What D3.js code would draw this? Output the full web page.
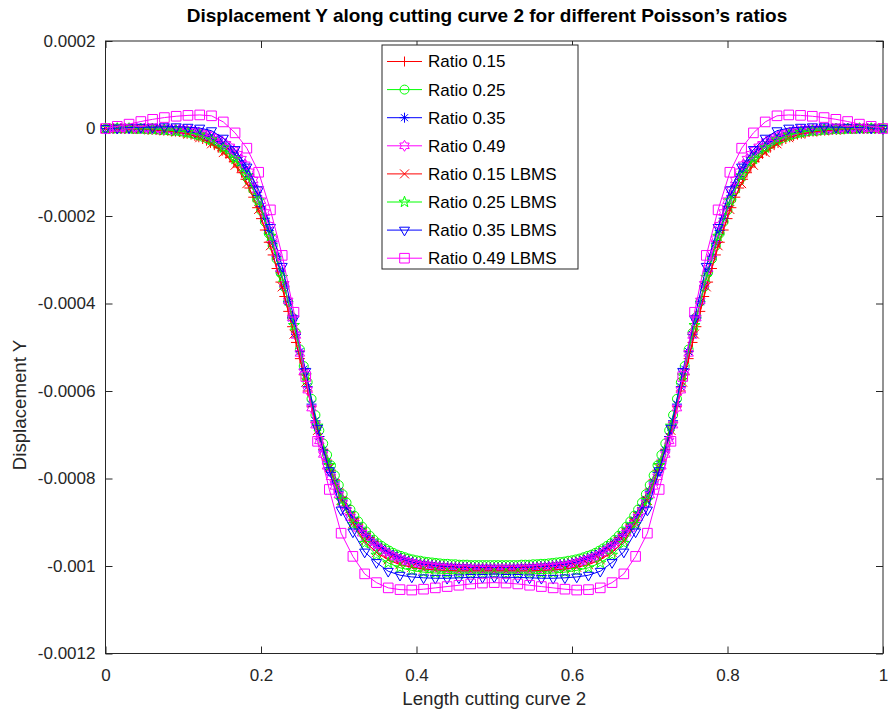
<!DOCTYPE html>
<html><head><meta charset="utf-8">
<script src="https://cdn.jsdelivr.net/npm/d3@7"></script>
<style>
body{margin:0;background:#fff}
svg{display:block}
text{font-family:"Liberation Sans",Arial,Helvetica,sans-serif}
</style>
</head><body>
<svg id="chart" width="888" height="715"></svg>
<script>
// values are in units of 1e-6 (micro)
const Y_UNIT = 1e-6;
const xDense = d3.range(201).map(i => i / 200);   // sampling grid, step 0.005
const xLbms = d3.range(67).map(i => i / 66);      // LBMS sampling grid

const ratio015 = [
0,0,0,0,0,0,-1,-1,-1,-1,
-2,-2,-3,-3,-4,-5,-5,-6,-7,-8,
-10,-12,-14,-17,-20,-24,-28,-33,-38,-44,
-51,-58,-66,-76,-88,-101,-116,-136,-157,-181,
-206,-232,-260,-289,-320,-351,-384,-418,-453,-489,
-526,-563,-600,-636,-671,-704,-733,-758,-781,-803,
-824,-844,-862,-878,-891,-904,-915,-926,-935,-944,
-951,-958,-964,-969,-974,-978,-981,-984,-987,-989,
-991,-992,-994,-995,-996,-997,-998,-999,-1000,-1000,
-1001,-1001,-1002,-1002,-1002,-1003,-1003,-1003,-1003,-1003,
-1003,-1003,-1003,-1003,-1003,-1003,-1002,-1002,-1002,-1001,
-1001,-1000,-1000,-999,-998,-997,-996,-995,-994,-992,
-991,-989,-987,-984,-981,-978,-974,-969,-964,-958,
-951,-944,-935,-926,-915,-904,-891,-878,-862,-844,
-824,-803,-781,-758,-733,-704,-671,-636,-600,-563,
-526,-489,-453,-418,-384,-351,-320,-289,-260,-232,
-206,-181,-157,-136,-116,-101,-88,-76,-66,-58,
-51,-44,-38,-33,-28,-24,-20,-17,-14,-12,
-10,-8,-7,-6,-5,-5,-4,-3,-3,-2,
-2,-1,-1,-1,-1,0,0,0,0,0,
0];

const ratio025 = [
0,0,0,0,0,0,0,-1,-1,-1,
-1,-2,-2,-2,-3,-3,-4,-5,-5,-6,
-7,-9,-11,-13,-16,-19,-22,-26,-30,-36,
-42,-48,-55,-64,-75,-87,-100,-120,-140,-162,
-187,-213,-240,-268,-298,-329,-362,-396,-431,-467,
-505,-543,-580,-618,-655,-690,-720,-746,-770,-793,
-815,-836,-855,-871,-885,-898,-910,-921,-931,-940,
-948,-954,-960,-965,-970,-974,-977,-980,-983,-985,
-987,-988,-990,-991,-992,-993,-994,-995,-995,-996,
-996,-997,-997,-997,-998,-998,-998,-998,-998,-998,
-998,-998,-998,-998,-998,-998,-998,-997,-997,-997,
-996,-996,-995,-995,-994,-993,-992,-991,-990,-988,
-987,-985,-983,-980,-977,-974,-970,-965,-960,-954,
-948,-940,-931,-921,-910,-898,-885,-871,-855,-836,
-815,-793,-770,-746,-720,-690,-655,-618,-580,-543,
-505,-467,-431,-396,-362,-329,-298,-268,-240,-213,
-187,-162,-140,-120,-100,-87,-75,-64,-55,-48,
-42,-36,-30,-26,-22,-19,-16,-13,-11,-9,
-7,-6,-5,-5,-4,-3,-3,-2,-2,-2,
-1,-1,-1,-1,0,0,0,0,0,0,
0];

const ratio035 = [
0,0,0,0,0,0,0,0,0,0,
-1,-1,-1,-1,-2,-2,-3,-3,-4,-4,
-5,-6,-8,-10,-12,-15,-18,-21,-25,-30,
-35,-41,-48,-56,-66,-78,-92,-110,-130,-153,
-178,-205,-233,-262,-293,-326,-360,-396,-433,-471,
-510,-550,-590,-630,-668,-704,-735,-762,-786,-808,
-829,-849,-867,-882,-896,-909,-920,-930,-939,-947,
-954,-960,-966,-971,-975,-979,-983,-986,-989,-991,
-993,-995,-996,-997,-998,-999,-1000,-1001,-1001,-1002,
-1002,-1003,-1003,-1003,-1004,-1004,-1004,-1004,-1004,-1004,
-1004,-1004,-1004,-1004,-1004,-1004,-1004,-1003,-1003,-1003,
-1002,-1002,-1001,-1001,-1000,-999,-998,-997,-996,-995,
-993,-991,-989,-986,-983,-979,-975,-971,-966,-960,
-954,-947,-939,-930,-920,-909,-896,-882,-867,-849,
-829,-808,-786,-762,-735,-704,-668,-630,-590,-550,
-510,-471,-433,-396,-360,-326,-293,-262,-233,-205,
-178,-153,-130,-110,-92,-78,-66,-56,-48,-41,
-35,-30,-25,-21,-18,-15,-12,-10,-8,-6,
-5,-4,-4,-3,-3,-2,-2,-1,-1,-1,
-1,0,0,0,0,0,0,0,0,0,
0];

const ratio049 = [
0,0,0,0,0,0,0,0,0,0,
0,0,0,-1,-1,-1,-1,-2,-2,-3,
-3,-4,-5,-7,-9,-11,-14,-17,-21,-25,
-30,-36,-42,-50,-59,-70,-83,-99,-118,-140,
-165,-192,-221,-252,-285,-320,-356,-394,-433,-473,
-514,-556,-598,-639,-678,-714,-745,-772,-796,-818,
-838,-857,-874,-889,-902,-914,-925,-935,-944,-952,
-958,-964,-970,-975,-979,-983,-986,-989,-992,-994,
-996,-998,-999,-1000,-1001,-1002,-1003,-1004,-1004,-1005,
-1005,-1006,-1006,-1006,-1007,-1007,-1007,-1007,-1007,-1007,
-1007,-1007,-1007,-1007,-1007,-1007,-1007,-1006,-1006,-1006,
-1005,-1005,-1004,-1004,-1003,-1002,-1001,-1000,-999,-998,
-996,-994,-992,-989,-986,-983,-979,-975,-970,-964,
-958,-952,-944,-935,-925,-914,-902,-889,-874,-857,
-838,-818,-796,-772,-745,-714,-678,-639,-598,-556,
-514,-473,-433,-394,-356,-320,-285,-252,-221,-192,
-165,-140,-118,-99,-83,-70,-59,-50,-42,-36,
-30,-25,-21,-17,-14,-11,-9,-7,-5,-4,
-3,-3,-2,-2,-1,-1,-1,-1,0,0,
0,0,0,0,0,0,0,0,0,0,
0];

const ratio015Lbms = [
0,0,-1,-1,-3,-5,-8,-13,-21,-35,
-55,-84,-126,-185,-268,-362,-470,-580,-690,-775,
-850,-902,-943,-969,-986,-997,-1003,-1007,-1009,-1010,
-1011,-1011,-1011,-1011,-1011,-1011,-1011,-1010,-1009,-1007,
-1003,-997,-986,-969,-943,-902,-850,-775,-690,-580,
-470,-362,-268,-185,-126,-84,-55,-35,-21,-13,
-8,-5,-3,-1,-1,0,0];

const ratio025Lbms = [
0,0,0,-1,-1,-3,-5,-9,-15,-26,
-44,-70,-108,-165,-246,-340,-450,-565,-680,-770,
-850,-905,-948,-975,-993,-1004,-1010,-1014,-1016,-1017,
-1018,-1018,-1018,-1018,-1018,-1018,-1018,-1017,-1016,-1014,
-1010,-1004,-993,-975,-948,-905,-850,-770,-680,-565,
-450,-340,-246,-165,-108,-70,-44,-26,-15,-9,
-5,-3,-1,-1,0,0,0];

const ratio035Lbms = [
0,1,2,3,3,4,4,3,1,-5,
-22,-48,-88,-140,-226,-315,-435,-555,-685,-782,
-872,-922,-968,-992,-1012,-1021,-1025,-1027,-1028,-1028,
-1027,-1026,-1026,-1025,-1026,-1026,-1027,-1028,-1028,-1027,
-1025,-1021,-1012,-992,-968,-922,-872,-782,-685,-555,
-435,-315,-226,-140,-88,-48,-22,-5,1,3,
4,4,3,3,2,1,0];

const ratio049Lbms = [
0,5,10,16,21,25,28,30,31,29,
15,-10,-45,-100,-186,-290,-420,-567,-715,-825,
-925,-978,-1018,-1038,-1050,-1054,-1055,-1053,-1050,-1047,
-1044,-1041,-1039,-1038,-1039,-1041,-1044,-1047,-1050,-1053,
-1055,-1054,-1050,-1038,-1018,-978,-925,-825,-715,-567,
-420,-290,-186,-100,-45,-10,15,29,31,30,
28,25,21,16,10,5,0];

const xTicks = [0, 0.2, 0.4, 0.6, 0.8, 1];
const yTicks = [0.0002, 0, -0.0002, -0.0004, -0.0006, -0.0008, -0.001, -0.0012];

const titleText = "Displacement Y along cutting curve 2 for different Poisson\u2019s ratios";
const xLabelText = "Length cutting curve 2";
const yLabelText = "Displacement Y";

const series = [
  {name: "Ratio 0.15",      xs: xDense, ys: ratio015,     color: "#ff0000", marker: "plus"},
  {name: "Ratio 0.25",      xs: xDense, ys: ratio025,     color: "#00ff00", marker: "circle"},
  {name: "Ratio 0.35",      xs: xDense, ys: ratio035,     color: "#0000ff", marker: "asterisk"},
  {name: "Ratio 0.49",      xs: xDense, ys: ratio049,     color: "#ff00ff", marker: "hexagram"},
  {name: "Ratio 0.15 LBMS", xs: xLbms,  ys: ratio015Lbms, color: "#ff0000", marker: "cross"},
  {name: "Ratio 0.25 LBMS", xs: xLbms,  ys: ratio025Lbms, color: "#00ff00", marker: "pentagram"},
  {name: "Ratio 0.35 LBMS", xs: xLbms,  ys: ratio035Lbms, color: "#0000ff", marker: "triangleDown"},
  {name: "Ratio 0.49 LBMS", xs: xLbms,  ys: ratio049Lbms, color: "#ff00ff", marker: "square"}
];

const axisColor = "#262626";
const plot = {left: 105.5, right: 883, top: 41, bottom: 653.5};

const svg = d3.select("#chart");
const x = d3.scaleLinear().domain([0, 1]).range([plot.left, plot.right]);
const y = d3.scaleLinear().domain([-0.0012, 0.0002]).range([plot.bottom, plot.top]);

function starPath(n, ro, ri) {
  const pts = [];
  for (let i = 0; i < 2 * n; i++) {
    const a = -Math.PI / 2 + i * Math.PI / n;
    const r = i % 2 === 0 ? ro : ri;
    pts.push([r * Math.cos(a), r * Math.sin(a)]);
  }
  return "M" + pts.map(p => p[0].toFixed(2) + "," + p[1].toFixed(2)).join("L") + "Z";
}
function markerPath(type) {
  switch (type) {
    case "plus": return "M0,-5V5M-5,0H5";
    case "circle": return "M4.5,0A4.5,4.5 0 1,1 -4.5,0A4.5,4.5 0 1,1 4.5,0Z";
    case "asterisk": return "M0,-5V5M-5,0H5M-3.5,-3.5L3.5,3.5M-3.5,3.5L3.5,-3.5";
    case "hexagram": return starPath(6, 5.5, 5.5 / Math.sqrt(3));
    case "cross": return "M-4.5,-4.5L4.5,4.5M-4.5,4.5L4.5,-4.5";
    case "pentagram": return starPath(5, 5.8, 2.3);
    case "triangleDown": {
      const r = 5.8;
      return `M${-r*0.866},${-r/2}L${r*0.866},${-r/2}L0,${r}Z`;
    }
    case "square": return "M-4.8,-4.8H4.8V4.8H-4.8Z";
  }
}

// axes
const fmtY = d => d === 0 ? "0" : String(+d.toFixed(4));
const fmtX = d => String(+d.toFixed(1));

const gLeft = svg.append("g").attr("transform", `translate(${plot.left},0)`)
  .call(d3.axisLeft(y).tickValues(yTicks).tickFormat(fmtY).tickSize(-7).tickSizeOuter(0).tickPadding(10));
const gRight = svg.append("g").attr("transform", `translate(${plot.right},0)`)
  .call(d3.axisRight(y).tickValues(yTicks).tickFormat("").tickSize(-7).tickSizeOuter(0));
const gBottom = svg.append("g").attr("transform", `translate(0,${plot.bottom})`)
  .call(d3.axisBottom(x).tickValues(xTicks).tickFormat(fmtX).tickSize(-7).tickSizeOuter(0).tickPadding(15));
const gTop = svg.append("g").attr("transform", `translate(0,${plot.top})`)
  .call(d3.axisTop(x).tickValues(xTicks).tickFormat("").tickSize(-7).tickSizeOuter(0));

[gLeft, gRight, gBottom, gTop].forEach(g => {
  g.select(".domain").remove();
  g.selectAll(".tick line").attr("stroke", axisColor).attr("stroke-width", 1);
  g.selectAll(".tick text").attr("fill", axisColor)
    .style("font-family", '"Liberation Sans",Arial,Helvetica,sans-serif').style("font-size", "17px");
});

svg.append("rect")
  .attr("x", plot.left).attr("y", plot.top)
  .attr("width", plot.right - plot.left).attr("height", plot.bottom - plot.top)
  .attr("fill", "none").attr("stroke", axisColor).attr("stroke-width", 1);

// series
const line = d3.line().x(d => x(d[0])).y(d => y(d[1] * Y_UNIT));
series.forEach(s => {
  const pts = s.xs.map((xv, i) => [xv, s.ys[i]]);
  const g = svg.append("g");
  g.append("path").attr("d", line(pts)).attr("fill", "none")
    .attr("stroke", s.color).attr("stroke-width", 1);
  g.selectAll("path.m").data(pts).join("path").attr("class", "m")
    .attr("transform", d => `translate(${x(d[0])},${y(d[1] * Y_UNIT)})`)
    .attr("d", markerPath(s.marker))
    .attr("fill", "none").attr("stroke", s.color).attr("stroke-width", 1);
});

// legend
const leg = {x: 382, y: 45, w: 196, h: 224, row: 28.1, first: 61.5};
const gl = svg.append("g");
gl.append("rect").attr("x", leg.x).attr("y", leg.y).attr("width", leg.w).attr("height", leg.h)
  .attr("fill", "#fff").attr("stroke", axisColor).attr("stroke-width", 1);
series.forEach((s, i) => {
  const cy = leg.first + i * leg.row;
  gl.append("line").attr("x1", leg.x + 5).attr("x2", leg.x + 40).attr("y1", cy).attr("y2", cy)
    .attr("stroke", s.color).attr("stroke-width", 1);
  gl.append("path").attr("d", markerPath(s.marker))
    .attr("transform", `translate(${leg.x + 22.5},${cy})`)
    .attr("fill", "none").attr("stroke", s.color).attr("stroke-width", 1);
  gl.append("text").attr("x", leg.x + 46).attr("y", cy).attr("dy", "0.35em")
    .attr("fill", "#000").style("font-size", "17px").text(s.name);
});

// title and labels
svg.append("text").attr("x", 487).attr("y", 22)
  .attr("text-anchor", "middle").style("font-size", "19px").style("font-weight", "bold")
  .attr("fill", "#000").text(titleText);
svg.append("text").attr("x", (plot.left + plot.right) / 2).attr("y", 705)
  .attr("text-anchor", "middle").style("font-size", "18.7px").attr("fill", axisColor).text(xLabelText);
svg.append("text").attr("transform", `translate(26,405) rotate(-90)`)
  .attr("text-anchor", "middle").style("font-size", "18.7px").attr("fill", axisColor).text(yLabelText);
</script>
</body></html>
